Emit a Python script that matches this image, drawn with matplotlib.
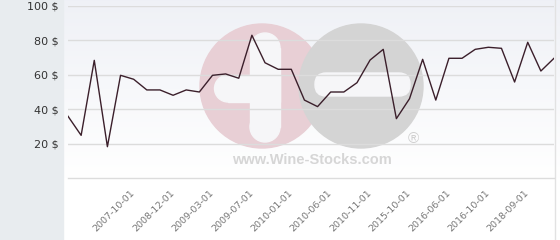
import matplotlib.pyplot as plt
import numpy as np
from matplotlib.patches import Circle, FancyBboxPatch, Rectangle

# prices per date (38 points), only every 3rd date is labelled
prices = [35.9, 24.8, 68.4, 18.2, 59.7, 57.4, 51.2, 51.2, 48.1, 51.2,
          50.0, 59.7, 60.5, 58.0, 83.0, 67.0, 63.2, 63.2, 45.3, 41.5,
          50.0, 50.0, 55.4, 68.6, 74.8, 34.5, 46.1, 69.0, 45.3, 69.6,
          69.6, 74.8, 76.0, 75.4, 55.8, 78.9, 62.2, 69.6]
tick_idx = [5, 8, 11, 14, 17, 20, 23, 26, 29, 32, 35]
tick_labels = ['2007-10-01', '2008-12-01', '2009-03-01', '2009-07-01',
               '2010-01-01', '2010-06-01', '2010-11-01', '2015-10-01',
               '2016-06-01', '2016-10-01', '2018-09-01']
y_ticks = [20, 40, 60, 80, 100]

W, H = 560, 240
fig = plt.figure(figsize=(W / 100, H / 100), dpi=100)

# background in pixel coordinates
bg = fig.add_axes([0, 0, 1, 1])
bg.set_xlim(0, W)
bg.set_ylim(H, 0)
bg.axis('off')
grad = np.linspace(0, 1, 200).reshape(-1, 1)
top = np.array([0.937, 0.945, 0.965])
bot = np.array([1.0, 1.0, 1.0])
img = top + (bot - top) * grad[..., None]
bg.imshow(img, extent=[63, W, 178, 0], aspect='auto', zorder=0)
bg.add_patch(Rectangle((63, 178), W - 63, H - 178, color='white', zorder=0))
bg.add_patch(Rectangle((0, 0), 63, H, color='#e8ecef', zorder=1))

# watermark
white = '#f6f6f8'
bg.add_patch(Circle((262, 86), 62, color='#e8cfd5', zorder=2))
bg.add_patch(Rectangle((250, 48), 30, 79, color=white, zorder=3))
bg.add_patch(Circle((265, 48), 15, color=white, zorder=3))
bg.add_patch(Circle((265, 127), 15, color=white, zorder=3))
bg.add_patch(Rectangle((228, 75), 52, 27, color=white, zorder=3))
bg.add_patch(Circle((228, 88.5), 13.5, color=white, zorder=3))
bg.add_patch(Circle((361, 86), 62, color='#d4d4d4', zorder=4))
bg.add_patch(FancyBboxPatch((315, 73), 95, 23, boxstyle='round,pad=0,rounding_size=11',
                            color=white, zorder=5))
bg.text(413, 139, '®', fontsize=11, color='#cfcfcf', ha='center', va='center',
        family='Liberation Sans', zorder=5)
bg.text(312, 160, 'www.Wine-Stocks.com', fontsize=10.5, color='#d6d6d6',
        fontweight='bold', ha='center', va='center', family='Liberation Sans', zorder=5)
bg.plot([555, 555], [0, H], color='#e2e2e2', lw=1, zorder=5)

ax = fig.add_axes([68 / W, 62 / H, 486 / W, 172 / H])
ax.patch.set_alpha(0)
x = np.arange(len(prices))
ax.plot(x, prices, color='#3b1f2b', lw=1, zorder=3)
ax.set_xlim(0, len(prices) - 1)
ax.set_ylim(0, 100)
ax.set_yticks(y_ticks)
ax.set_yticklabels([f'{v} $' for v in y_ticks], fontsize=8, color='#333333')
for v in y_ticks:
    ax.axhline(v, color='#dcdcdc', lw=1, zorder=1)
ax.set_xticks(tick_idx)
ax.set_xticklabels(tick_labels, rotation=45, ha='right', va='center',
                   rotation_mode='anchor', fontsize=6.8, color='#777777')
ax.tick_params(axis='both', length=0)
ax.tick_params(axis='y', pad=6.5)
ax.tick_params(axis='x', pad=10)
for s in ['top', 'right', 'left']:
    ax.spines[s].set_visible(False)
ax.spines['bottom'].set_color('#dcdcdc')
ax.spines['bottom'].set_linewidth(1)

fig.savefig('out.png', dpi=100)
